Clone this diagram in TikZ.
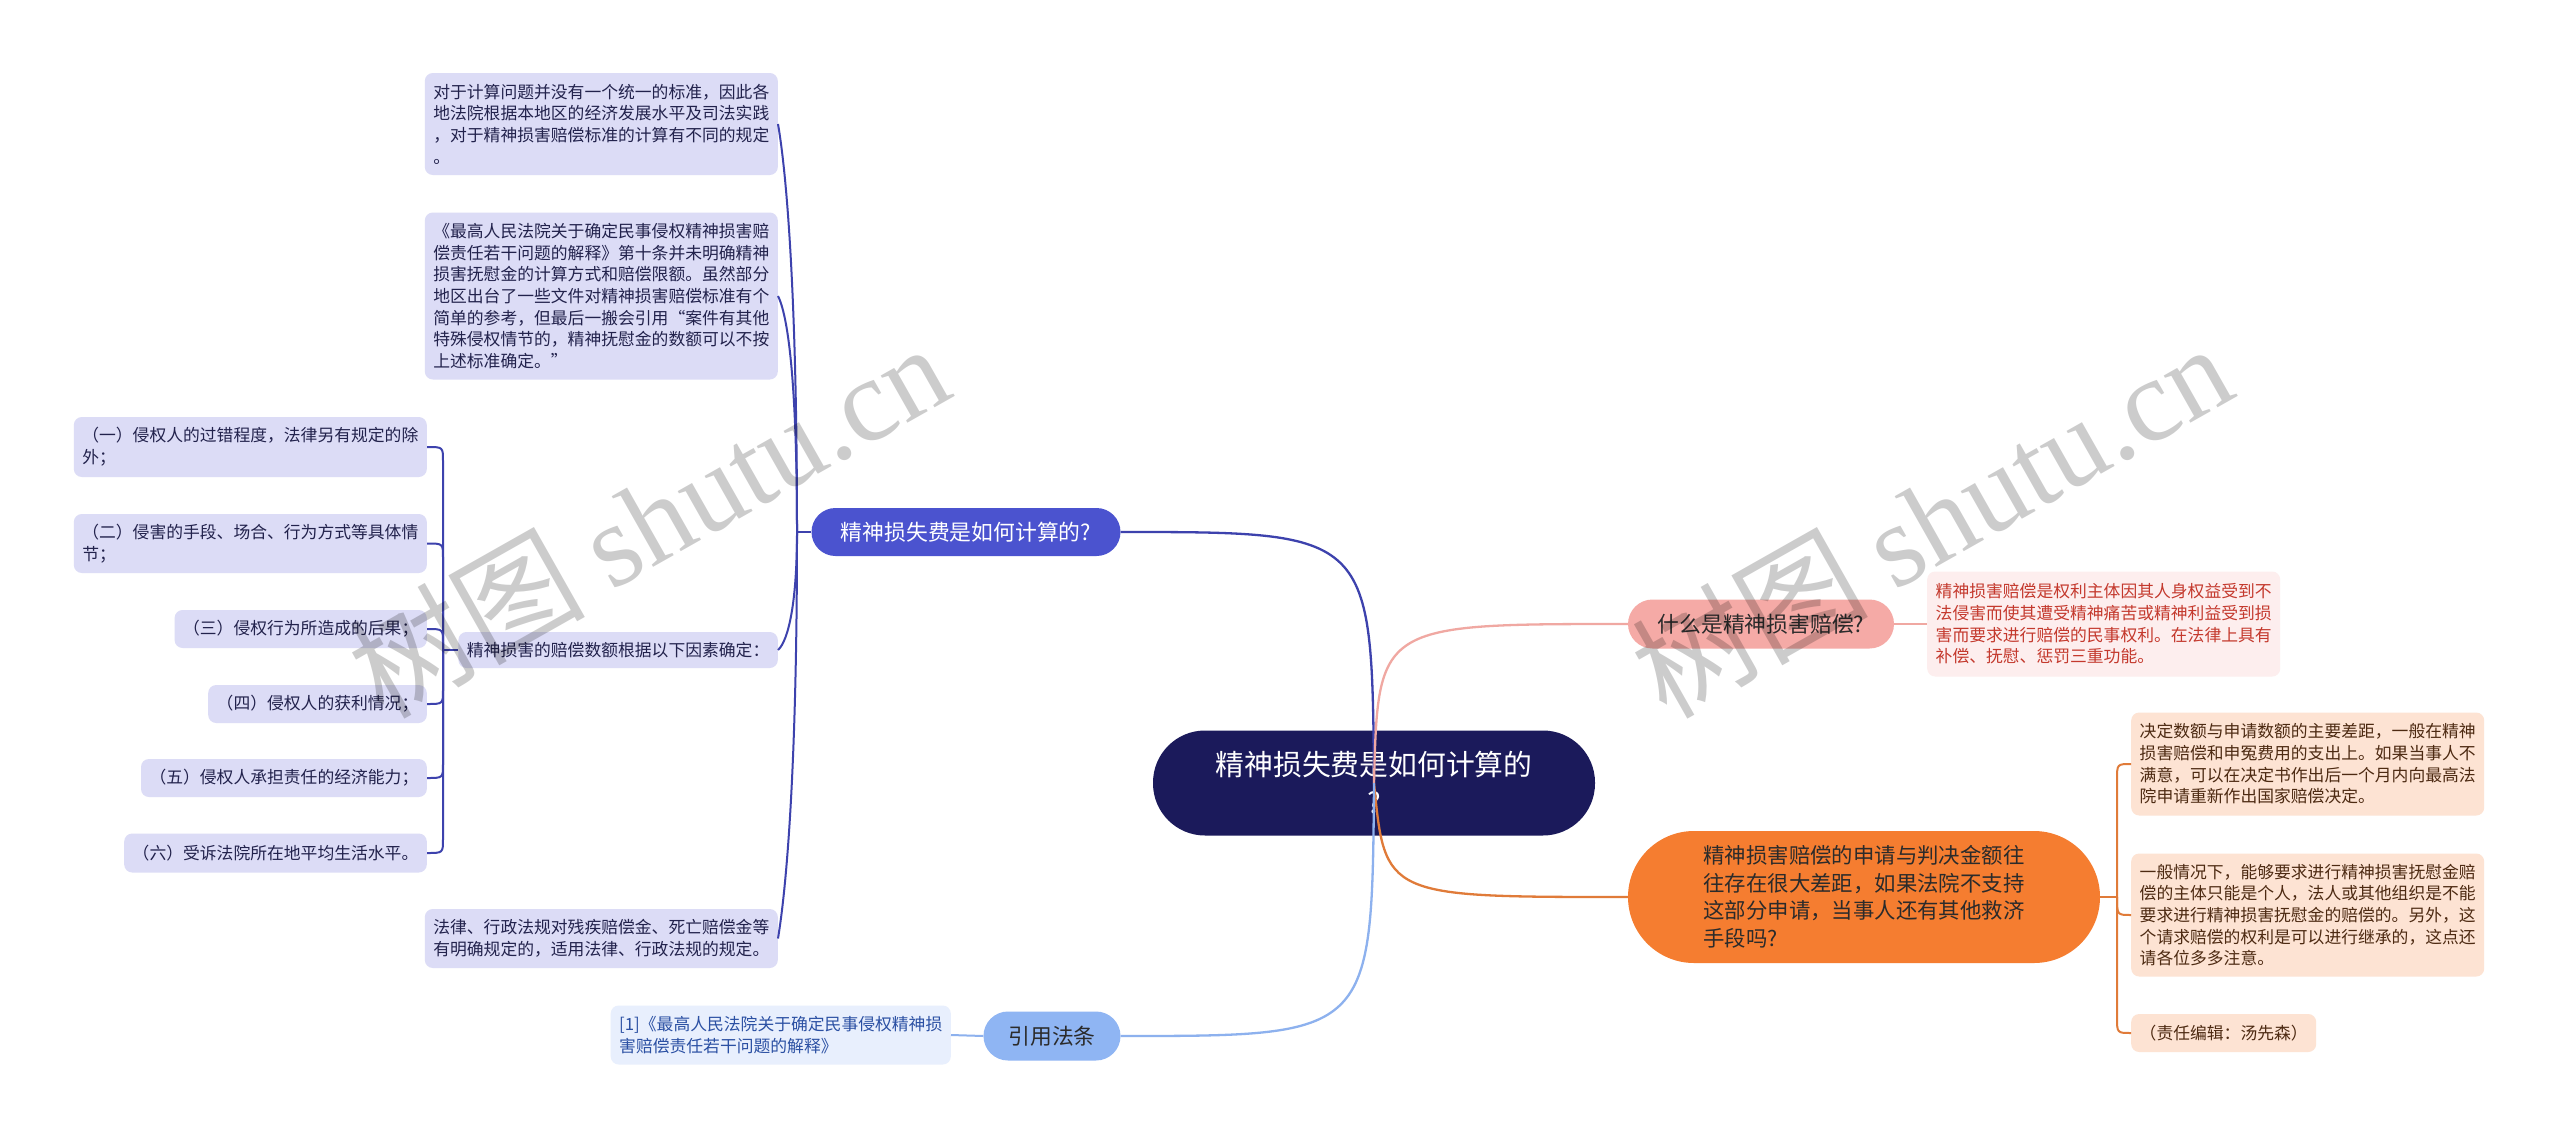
\documentclass[tikz,border=0pt]{standalone}
\usepackage{fontspec}
\setmainfont{Noto Sans CJK SC}
\newfontfamily\wmlat{Liberation Serif}
\definecolor{cnavy}{HTML}{1B1A5B}
\definecolor{bfill}{HTML}{4B53CF}
\definecolor{bline}{HTML}{3D42AD}
\definecolor{lav}{HTML}{DCDCF6}
\definecolor{lavtext}{HTML}{22224C}
\definecolor{pfill}{HTML}{F5AAA6}
\definecolor{pline}{HTML}{F0A8A2}
\definecolor{pleaffill}{HTML}{FDEEEE}
\definecolor{pleaftext}{HTML}{C4392D}
\definecolor{ofill}{HTML}{F57D30}
\definecolor{oline}{HTML}{E07B39}
\definecolor{oleaffill}{HTML}{FDE3D3}
\definecolor{oleaftext}{HTML}{4D2A12}
\definecolor{lbfill}{HTML}{8FB5F3}
\definecolor{lbline}{HTML}{8DB1EE}
\definecolor{lbleaffill}{HTML}{E8EFFD}
\definecolor{lbleaftext}{HTML}{2B50A3}
\definecolor{darktext}{HTML}{2B2B2B}
\begin{document}
\begin{tikzpicture}[x=1pt,y=-1pt,
  leafbox/.style={rounded corners=8pt, inner xsep=8.5pt, inner ysep=2pt, align=left,
    font=\fontsize{16.8}{21.7}\selectfont},
  lavleaf/.style={leafbox, fill=lav, text=lavtext},
  pinkleaf/.style={leafbox, fill=pleaffill, text=pleaftext},
  orangeleaf/.style={leafbox, fill=oleaffill, text=oleaftext},
  lbleaf/.style={leafbox, fill=lbleaffill, text=lbleaftext},
  capsule/.style={inner sep=0pt, align=center},
  branchfont/.style={font=\fontsize{21.8}{26}\selectfont},
  subline/.style={line width=2pt},
  mainline/.style={line width=2.3pt},
]
\useasboundingbox[fill=white] (0,0) rectangle (2560,1138);

% ---------- central node ----------
\node[capsule, fill=cnavy, text=white, minimum width=442pt, minimum height=105pt,
  rounded corners=52pt, font=\fontsize{28.8}{38}\selectfont] (cn) at (1374,783)
  {精神损失费是如何计算的\\?};

% ---------- branch nodes ----------
\node[capsule, branchfont, fill=bfill, text=white, minimum width=309pt, minimum height=48pt,
  rounded corners=24pt] (b1) at (966,532) {精神损失费是如何计算的?};
\node[capsule, branchfont, fill=pfill, text=darktext, minimum width=266pt, minimum height=49pt,
  rounded corners=24.5pt] (pn) at (1761,624) {什么是精神损害赔偿?};
\node[capsule, fill=ofill, text=darktext, minimum width=472pt, minimum height=132pt,
  rounded corners=66pt, align=left, font=\fontsize{21.4}{27.5}\selectfont] (on) at (1864,897)
  {精神损害赔偿的申请与判决金额往\\往存在很大差距，如果法院不支持\\这部分申请，当事人还有其他救济\\手段吗?};
\node[capsule, branchfont, fill=lbfill, text=darktext, minimum width=137pt, minimum height=49pt,
  rounded corners=24.5pt] (rn) at (1052,1036) {引用法条};

% ---------- left leaves of branch 1 ----------
\node[lavleaf, anchor=east, minimum height=102pt] (la) at (778,124)
  {对于计算问题并没有一个统一的标准，因此各\\地法院根据本地区的经济发展水平及司法实践\\，对于精神损害赔偿标准的计算有不同的规定\\。};
\node[lavleaf, anchor=east, minimum height=167pt] (lb) at (778,296)
  {《最高人民法院关于确定民事侵权精神损害赔\\偿责任若干问题的解释》第十条并未明确精神\\损害抚慰金的计算方式和赔偿限额。虽然部分\\地区出台了一些文件对精神损害赔偿标准有个\\简单的参考，但最后一搬会引用“案件有其他\\特殊侵权情节的，精神抚慰金的数额可以不按\\上述标准确定。”};
\node[lavleaf, anchor=east, minimum height=36pt] (lc) at (778,650)
  {精神损害的赔偿数额根据以下因素确定：};
\node[lavleaf, anchor=east, minimum height=59pt] (ld) at (778,938.5)
  {法律、行政法规对残疾赔偿金、死亡赔偿金等\\有明确规定的，适用法律、行政法规的规定。};

% ---------- sub-leaves ----------
\node[lavleaf, anchor=east, minimum height=60pt] (s1) at (427,447)
  {（一）侵权人的过错程度，法律另有规定的除\\外；};
\node[lavleaf, anchor=east, minimum height=59pt] (s2) at (427,543.5)
  {（二）侵害的手段、场合、行为方式等具体情\\节；};
\node[lavleaf, anchor=east, minimum height=38pt] (s3) at (427,629) {（三）侵权行为所造成的后果；};
\node[lavleaf, anchor=east, minimum height=38pt] (s4) at (427,704) {（四）侵权人的获利情况；};
\node[lavleaf, anchor=east, minimum height=38pt] (s5) at (427,778) {（五）侵权人承担责任的经济能力；};
\node[lavleaf, anchor=east, minimum height=39pt] (s6) at (427,853) {（六）受诉法院所在地平均生活水平。};

% ---------- pink leaf ----------
\node[pinkleaf, anchor=west, minimum height=105pt] (pl) at (1927,624)
  {精神损害赔偿是权利主体因其人身权益受到不\\法侵害而使其遭受精神痛苦或精神利益受到损\\害而要求进行赔偿的民事权利。在法律上具有\\补偿、抚慰、惩罚三重功能。};

% ---------- orange leaves ----------
\node[orangeleaf, anchor=west, minimum height=103pt] (o1) at (2131,764)
  {决定数额与申请数额的主要差距，一般在精神\\损害赔偿和申冤费用的支出上。如果当事人不\\满意，可以在决定书作出后一个月内向最高法\\院申请重新作出国家赔偿决定。};
\node[orangeleaf, anchor=west, minimum height=123pt] (o2) at (2131,915)
  {一般情况下，能够要求进行精神损害抚慰金赔\\偿的主体只能是个人，法人或其他组织是不能\\要求进行精神损害抚慰金的赔偿的。另外，这\\个请求赔偿的权利是可以进行继承的，这点还\\请各位多多注意。};
\node[orangeleaf, anchor=west, minimum height=38pt] (o3) at (2131,1033) {（责任编辑：汤先森）};

% ---------- reference leaf ----------
\node[lbleaf, anchor=east, minimum height=59pt] (rl) at (951,1035)
  {[1]《最高人民法院关于确定民事侵权精神损\\害赔偿责任若干问题的解释》};

% ---------- subtree connectors ----------
\coordinate (j1) at (797,532);
\draw[subline, bline] (b1.west) -- (j1);
\draw[subline, bline] (j1) .. controls (797,287) and (786,170) .. (la.east);
\draw[subline, bline] (j1) .. controls (797,390) and (789,318) .. (lb.east);
\draw[subline, bline] (j1) .. controls (797,600) and (789,640) .. (lc.east);
\draw[subline, bline] (j1) .. controls (797,775) and (786,890) .. (ld.east);

\coordinate (j2) at (443,650);
\draw[subline, bline] (lc.west) -- (j2);
\draw[subline, bline] (j2) -- (443,461) .. controls (443,447) .. (s1.east);
\draw[subline, bline] (j2) -- (443,557.5) .. controls (443,543.5) .. (s2.east);
\draw[subline, bline] (j2) -- (443,643) .. controls (443,629) .. (s3.east);
\draw[subline, bline] (j2) -- (443,690) .. controls (443,704) .. (s4.east);
\draw[subline, bline] (j2) -- (443,764) .. controls (443,778) .. (s5.east);
\draw[subline, bline] (j2) -- (443,839) .. controls (443,853) .. (s6.east);

\draw[subline, pline] (pn.east) -- (pl.west);

\coordinate (j3) at (2117,897);
\draw[subline, oline] (on.east) -- (j3);
\draw[subline, oline] (j3) -- (2117,780) .. controls (2117,764) .. (o1.west);
\draw[subline, oline] (j3) .. controls (2117,915) .. (o2.west);
\draw[subline, oline] (j3) -- (2117,1017) .. controls (2117,1033) .. (o3.west);

\draw[subline, lbline] (rn.west) -- (rl.east);

% ---------- main connectors ----------
\draw[mainline, bline] (b1.east) .. controls (1372,532) .. (cn.center);
\draw[mainline, pline] (cn.center) .. controls (1378,624) .. (pn.west);
\draw[mainline, oline] (cn.center) .. controls (1385,897) .. (on.west);
\draw[mainline, lbline] (cn.center) .. controls (1372,1036) .. (rn.east);

% ---------- watermarks ----------
\node[rotate=29.5, text=black, opacity=0.2, font=\fontsize{118}{118}\selectfont] (wm1) at (648,519)
  {树图 {\wmlat shutu.cn}};
\node[rotate=29.5, text=black, opacity=0.2, font=\fontsize{118}{118}\selectfont] (wm2) at (1931,519)
  {树图 {\wmlat shutu.cn}};
\end{tikzpicture}
\end{document}
